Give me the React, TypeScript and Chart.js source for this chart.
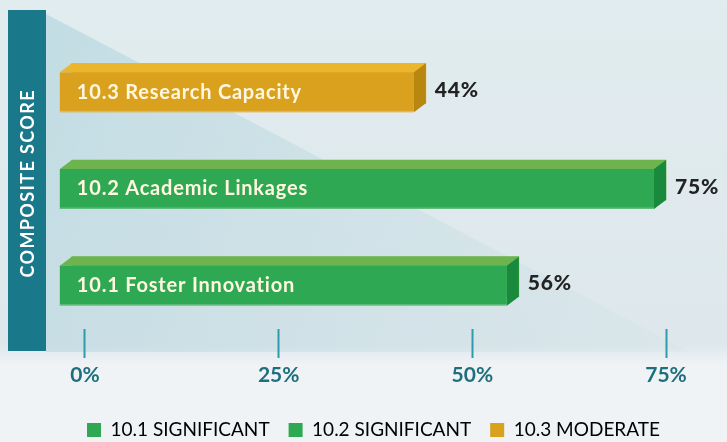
import React, { useEffect, useRef } from 'react';
import { Chart, registerables } from 'chart.js';

Chart.register(...registerables);

// ---- data ----
const CATEGORIES = ['10.1 Foster Innovation', '10.2 Academic Linkages', '10.3 Research Capacity'];
const VALUES = [56, 75, 44];
const TICK_VALUES = [0, 25, 50, 75];
const LEGEND_LABELS = ['10.1 SIGNIFICANT', '10.2 SIGNIFICANT', '10.3 MODERATE'];
const AXIS_TITLE = 'COMPOSITE SCORE';

// ---- styles ----
const FRONT = ['#2fa853', '#2fa853', '#daa11e'];
const TOP = ['#6db44f', '#6db44f', '#ebb62b'];
const SIDE = ['#198a3d', '#198a3d', '#b8870f'];
const TEAL = '#19788a';
const TICK_COLOR = '#2f9aab';
const TICK_LABEL = '#1e6f7e';
const DX = 12;
const DY = 9;
const BAR_BASE = -1.7;
const AXIS_MIN = -8.39;
const AXIS_MAX = 82.87;

const backgroundPlugin = {
  id: 'bg',
  beforeDraw(chart: any) {
    const { ctx, width, height } = chart;
    ctx.save();
    ctx.fillStyle = '#eff3f5';
    ctx.fillRect(0, 0, width, height);
    const g = ctx.createLinearGradient(0, 0, 0, 352);
    g.addColorStop(0, '#e1ecef');
    g.addColorStop(1, '#dee8ec');
    ctx.fillStyle = g;
    ctx.fillRect(0, 0, width, 352);
    const f = ctx.createLinearGradient(0, 345, 0, 365);
    f.addColorStop(0, 'rgba(222,232,236,1)');
    f.addColorStop(1, 'rgba(239,243,245,1)');
    ctx.fillStyle = f;
    ctx.fillRect(0, 345, width, 20);
    // diagonal light-blue triangle
    const t = ctx.createLinearGradient(46, 0, 700, 352);
    t.addColorStop(0, 'rgba(150,200,212,0.42)');
    t.addColorStop(1, 'rgba(175,208,218,0.08)');
    ctx.fillStyle = t;
    ctx.beginPath();
    ctx.moveTo(46, 14);
    ctx.lineTo(690, 352);
    ctx.lineTo(46, 352);
    ctx.closePath();
    ctx.fill();
    // teal title panel
    ctx.fillStyle = TEAL;
    ctx.fillRect(8, 10, 38, 341);
    ctx.translate(27, 184);
    ctx.rotate(-Math.PI / 2);
    ctx.fillStyle = '#ffffff';
    ctx.font = 'bold 18px Lato';
    (ctx as any).letterSpacing = '1.4px';
    ctx.textAlign = 'center';
    ctx.textBaseline = 'middle';
    ctx.fillText(AXIS_TITLE, 0.7, 1);
    ctx.restore();
  },
};

const bar3dPlugin = {
  id: 'bar3d',
  afterDatasetsDraw(chart: any) {
    const { ctx } = chart;
    const meta = chart.getDatasetMeta(0);
    ctx.save();
    meta.data.forEach((bar: any, i: number) => {
      const { x, y, base, height } = bar.getProps(['x', 'y', 'base', 'height'], true);
      const l = Math.min(x, base);
      const r = Math.max(x, base);
      const top = y - height / 2;
      const bottom = y + height / 2;
      const poly = (pts: number[][], color: string) => {
        ctx.fillStyle = color;
        ctx.beginPath();
        ctx.moveTo(pts[0][0], pts[0][1]);
        for (let k = 1; k < pts.length; k++) ctx.lineTo(pts[k][0], pts[k][1]);
        ctx.closePath();
        ctx.fill();
      };
      poly([[l - DX, top + DY], [l, top], [r, top], [r - DX, top + DY]], TOP[i]);
      poly([[r - DX, top + DY], [r, top], [r, bottom], [r - DX, bottom + DY]], SIDE[i]);
      ctx.fillStyle = FRONT[i];
      ctx.fillRect(l - DX, top + DY, r - l, height);
      ctx.fillStyle = 'rgba(255,255,255,0.25)';
      ctx.fillRect(l - DX, bottom + DY - 1.5, r - l, 1.5);
      // category label inside
      ctx.fillStyle = '#fff7e0';
      ctx.font = 'bold 20px Lato';
      (ctx as any).letterSpacing = '0.8px';
      ctx.textAlign = 'left';
      ctx.textBaseline = 'middle';
      ctx.fillText(CATEGORIES[i], l - DX + 17, y + DY);
      // value label
      ctx.fillStyle = '#222222';
      ctx.font = '900 21px Lato';
      (ctx as any).letterSpacing = '0.8px';
      ctx.fillText(VALUES[i] + '%', r + 9, y + 7);
      (ctx as any).letterSpacing = '0px';
    });
    ctx.restore();
  },
};

export default function App() {
  const ref = useRef<HTMLCanvasElement>(null);
  useEffect(() => {
    document.body.style.margin = '0';
    const chart = new Chart(ref.current as HTMLCanvasElement, {
      type: 'bar',
      data: {
        labels: CATEGORIES,
        datasets: [
          {
            data: VALUES,
            backgroundColor: TOP,
            base: BAR_BASE,
            barThickness: 40,
          } as any,
        ],
      },
      plugins: [backgroundPlugin, bar3dPlugin],
      options: {
        animation: false,
        responsive: false,
        indexAxis: 'y',
        layout: { padding: { left: 20, right: 0, top: 35, bottom: 0 } },
        scales: {
          y: { display: false, reverse: true },
          x: {
            min: AXIS_MIN,
            max: AXIS_MAX,
            afterBuildTicks: (s: any) => {
              s.ticks = TICK_VALUES.map((v) => ({ value: v }));
            },
            afterFit: (s: any) => {
              s.height = 76.5;
            },
            border: { display: false },
            grid: {
              drawOnChartArea: false,
              drawTicks: true,
              tickLength: 33,
              tickColor: TICK_COLOR,
              tickWidth: 2,
              tickBorderDash: [0, 4, 29, 4],
              color: TICK_COLOR,
            } as any,
            ticks: {
              padding: 4.5,
              color: TICK_LABEL,
              font: { family: 'Lato', weight: 'bold', size: 21 },
              callback: (v: any) => v + '%',
            },
          },
        },
        plugins: {
          tooltip: { enabled: false },
          legend: {
            position: 'bottom',
            maxHeight: 40.5,
            labels: {
              boxWidth: 14,
              boxHeight: 14,
              padding: 19,
              color: '#333333',
              font: { family: 'Lato', size: 19 },
              generateLabels: () =>
                LEGEND_LABELS.map((t, i) => ({
                  text: t,
                  fillStyle: FRONT[i],
                  strokeStyle: FRONT[i],
                  lineWidth: 0,
                  hidden: false,
                  datasetIndex: 0,
                  index: i,
                })),
            },
          },
        },
      },
    });
    return () => chart.destroy();
  }, []);
  return (
    <div style={{ width: 727, height: 442 }}>
      <canvas ref={ref} width={727} height={442} />
    </div>
  );
}
